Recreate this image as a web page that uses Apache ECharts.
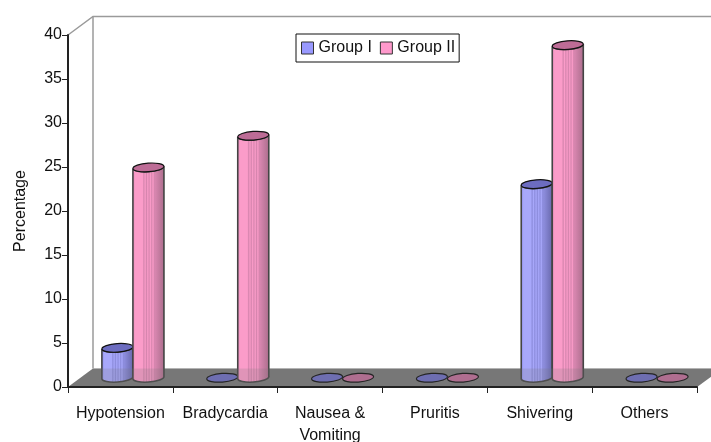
<!DOCTYPE html>
<html><head><meta charset="utf-8">
<style>html,body{margin:0;padding:0;background:#fff}#c{width:711px;height:442px}</style>
<script src="https://cdn.jsdelivr.net/npm/echarts@6/dist/echarts.min.js"></script>
</head><body><div id="c"></div>
<script>
const categories = ['Hypotension','Bradycardia','Nausea &\nVomiting','Pruritis','Shivering','Others'];
const groupI  = [3.4, 0, 0, 0, 22, 0];
const groupII = [23.9, 27.5, 0, 0, 37.8, 0];
const yTicks = {min:0,max:40,interval:5};
const FONT = '"Liberation Sans", Arial, sans-serif';
const DX = 25, DY = 18.5, BAR = 0.296, RY = 4.3, TILT = 0.07;

function stripes(edge, light, mid, dark){
  const s=[{offset:0,color:edge},{offset:.1,color:light},{offset:.28,color:light}];
  for(let i=0;i<10;i++){ s.push({offset:.32+i*.04,color:i%2?mid:light}); }
  s.push({offset:.72,color:mid},{offset:1,color:dark});
  return {type:'linear',x:0,y:0,x2:1,y2:0,colorStops:s};
}
function cyl(side, top, dir){
  return function(p, api){
    const c = api.coord([api.value(0), api.value(1)]);
    const base = api.coord([api.value(0), 0]);
    const w = api.size([1,0])[0]*BAR;
    const cx = c[0] + DX/2 + dir*w/2, x0 = cx-w/2, x1 = cx+w/2, rx = w/2;
    const yt = c[1]-DY/2, yb = base[1]-DY/2, t = rx*TILT;
    const deg = -Math.atan(TILT)*180/Math.PI;
    const kids = [];
    if(api.value(1)>0){
      kids.push({type:'path',shape:{pathData:
        `M${x0} ${yt+t} L${x0} ${yb+t} A${rx} ${RY} ${deg} 0 0 ${x1} ${yb-t} L${x1} ${yt-t} A${rx} ${RY} ${deg} 0 1 ${x0} ${yt+t} Z`},
        style:{fill:side,stroke:'#444',lineWidth:1.6}});
    }
    kids.push({type:'ellipse',x:cx,y:yt,rotation:Math.atan(TILT),originX:0,originY:0,
      shape:{cx:0,cy:0,rx:rx,ry:RY},style:{fill:top,stroke:'#111',lineWidth:1.2}});
    return {type:'group',children:kids};
  };
}
function floorPts(cs){
  const b=cs.y+cs.height, l=cs.x, r=cs.x+cs.width;
  return [[l,b],[l+DX,b-DY],[r+DX,b-DY],[r,b]];
}
const chart = echarts.init(document.getElementById('c'),null,{renderer:'canvas'});
chart.setOption({
  animation:false,
  backgroundColor:'#fff',
  textStyle:{fontFamily:FONT},
  grid:{left:68,right:14,top:35,bottom:55,containLabel:false,outerBoundsMode:'none'},
  legend:{
    left:296,top:34,orient:'horizontal',
    data:[{name:'Group I',icon:'rect'},{name:'Group II',icon:'rect'}],
    itemWidth:12,itemHeight:12,itemGap:8,padding:[6,4,6,5],
    borderColor:'#111',borderWidth:1,backgroundColor:'#fff',
    textStyle:{fontSize:16,color:'#111',fontFamily:FONT},
    itemStyle:{borderColor:'#333',borderWidth:1}
  },
  xAxis:{type:'category',data:categories,z:10,
    axisLine:{lineStyle:{color:'#222',width:2}},
    axisTick:{show:true,alignWithLabel:false,length:6,lineStyle:{color:'#222',width:1}},
    axisLabel:{interval:0,fontSize:16,color:'#111',margin:16,lineHeight:22,fontFamily:FONT},
    splitLine:{show:false}},
  yAxis:{type:'value',min:yTicks.min,max:yTicks.max,interval:yTicks.interval,z:10,
    name:'Percentage',nameLocation:'middle',nameGap:39,nameRotate:90,
    nameTextStyle:{fontSize:16,color:'#111',fontFamily:FONT},
    axisLine:{show:true,lineStyle:{color:'#222',width:2}},
    axisTick:{show:true,length:6,lineStyle:{color:'#222',width:1}},
    axisLabel:{fontSize:16,color:'#111',margin:6,fontFamily:FONT,padding:[3,0,0,0]},
    splitLine:{show:false}},
  series:[
    {type:'custom',name:'wall',silent:true,z:1,data:[0],
     renderItem:(p)=>{const cs=p.coordSys,l=cs.x,t=cs.y,b=cs.y+cs.height,r=cs.x+cs.width;
       const ln={stroke:'#9a9a9a',lineWidth:1.5,fill:null};
       return {type:'group',children:[
        {type:'polygon',shape:{points:floorPts(cs)},style:{fill:'#777777'}},
        {type:'polyline',shape:{points:[[l,t],[l+DX,t-DY],[r+DX,t-DY]]},style:ln},
        {type:'line',shape:{x1:l+DX,y1:t-DY,x2:l+DX,y2:b-DY},style:ln}
       ]};}},
    {type:'custom',name:'Group I',z:2,
     itemStyle:{color:'#9999ff'},
     encode:{x:0,y:1},
     data:groupI.map((v,i)=>[i,v]),
     renderItem:cyl(stripes('#8585e6','#a8a8fb','#8c8cdc','#6565a8'),'#6c6cc0',-1)},
    {type:'custom',name:'Group II',z:3,
     itemStyle:{color:'#ff99cc'},
     encode:{x:0,y:1},
     data:groupII.map((v,i)=>[i,v]),
     renderItem:cyl(stripes('#e48cb8','#fb9cc9','#d685ae','#a86c8a'),'#bd6c96',1)},
    {type:'custom',name:'floorShade',silent:true,z:4,data:[0],
     renderItem:(p)=>({type:'polygon',shape:{points:floorPts(p.coordSys)},style:{fill:'rgba(119,119,119,0.2)'}})}
  ]
});
</script></body></html>
